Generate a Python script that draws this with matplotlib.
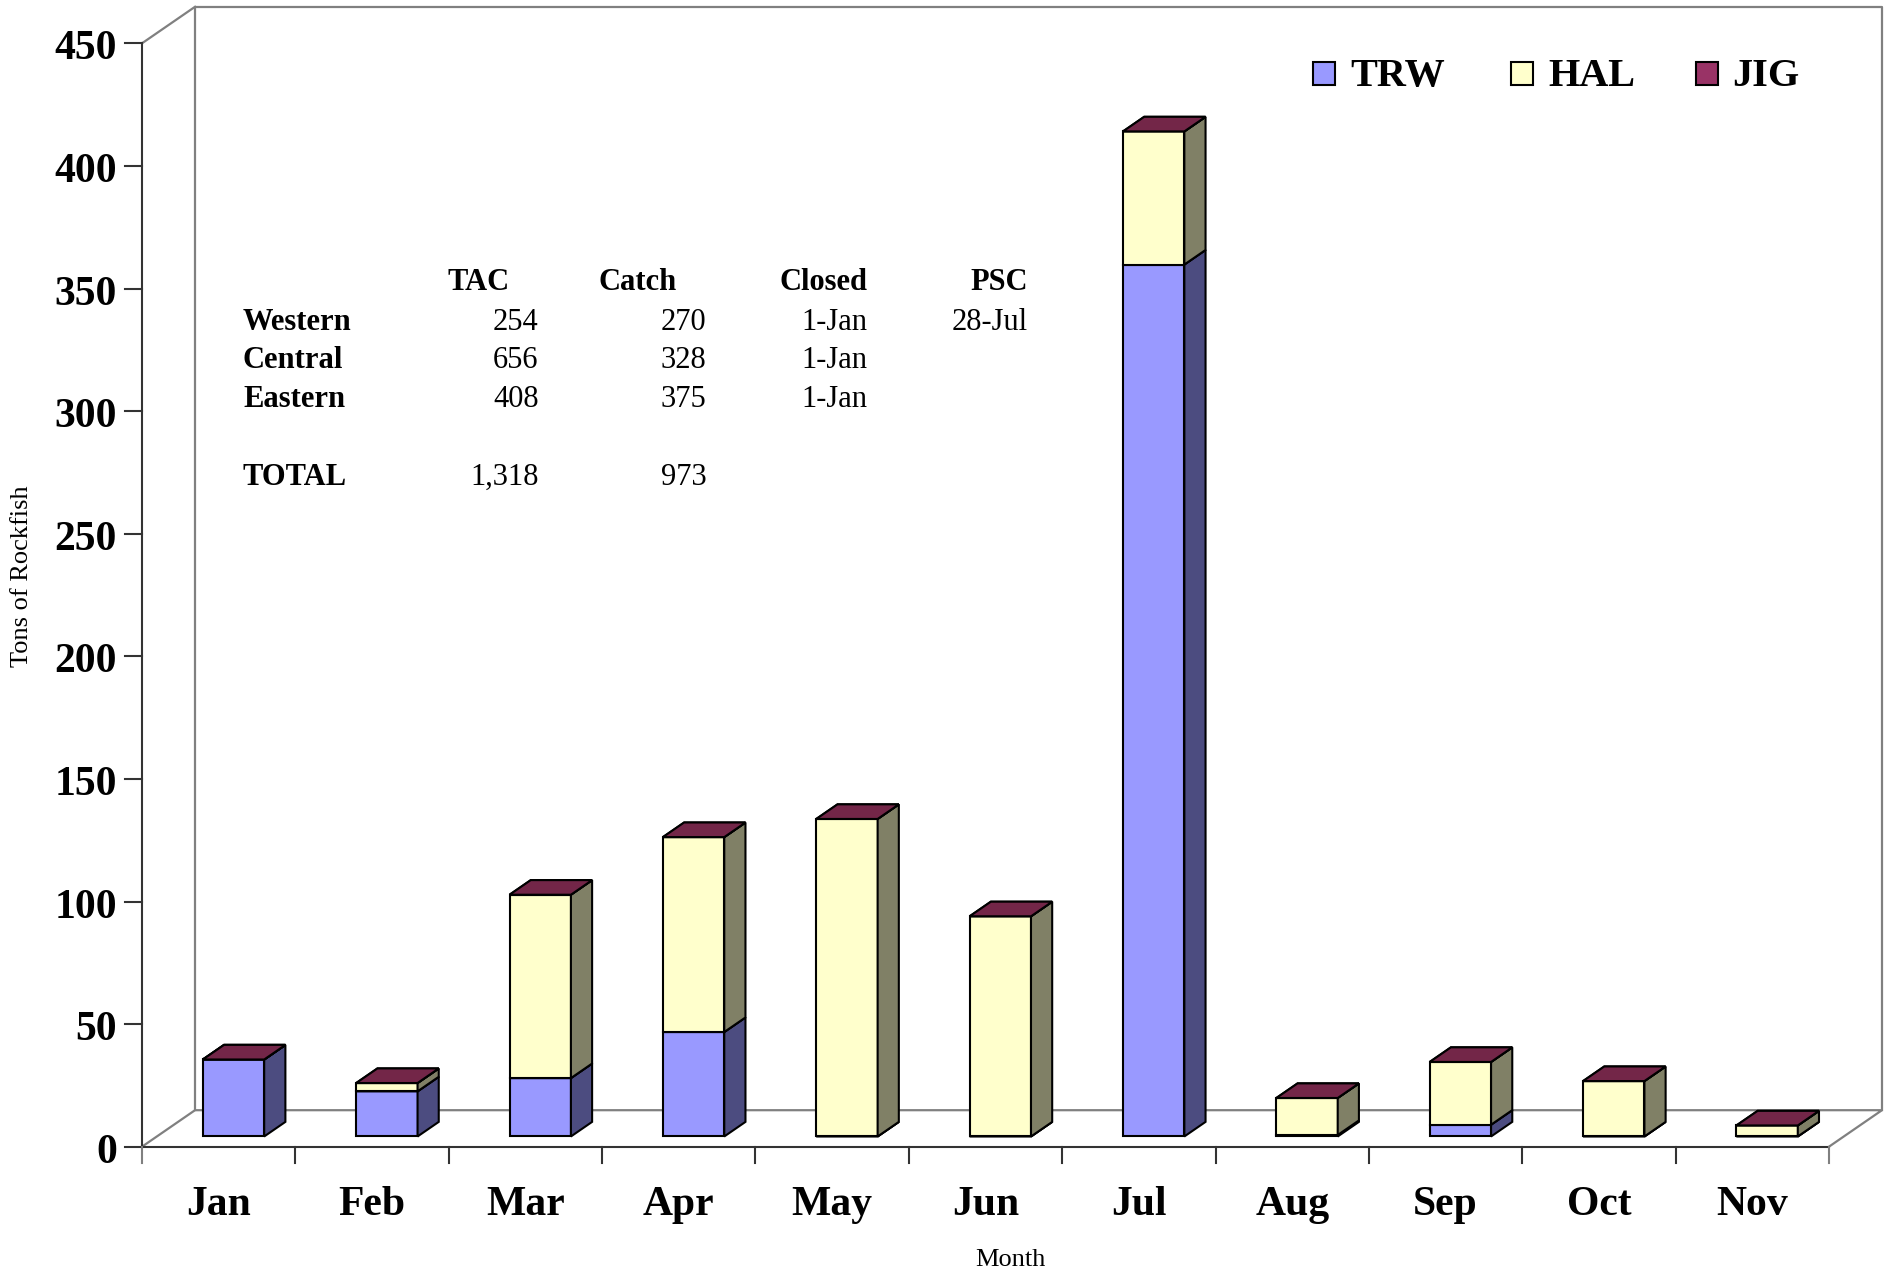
import matplotlib
matplotlib.use("Agg")
import matplotlib.pyplot as plt
from matplotlib.patches import Polygon, Rectangle

# ---- data -------------------------------------------------------------
months = ["Jan", "Feb", "Mar", "Apr", "May", "Jun", "Jul", "Aug", "Sep", "Oct", "Nov"]
trw = [31.4, 18.4, 23.8, 42.6, 0.0, 0.0, 355.6, 0.6, 4.8, 0.0, 0.0]
hal = [0.0, 3.4, 74.8, 79.5, 129.5, 89.8, 54.3, 15.1, 25.6, 22.6, 4.5]
jig = [0.0, 0.0, 0.0, 0.0, 0.0, 0.0, 0.0, 0.0, 0.0, 0.0, 0.0]
series_names = ["TRW", "HAL", "JIG"]
yticks = list(range(0, 451, 50))

table_cols = ["TAC", "Catch", "Closed", "PSC"]
table_rows = ["Western", "Central", "Eastern", "TOTAL"]
tac = ["254", "656", "408", "1,318"]
catch = ["270", "328", "375", "973"]
closed = ["1-Jan", "1-Jan", "1-Jan", ""]
psc = ["28-Jul", "", "", ""]

# ---- styling ----------------------------------------------------------
front_col = {"TRW": "#9999FF", "HAL": "#FFFFCC", "JIG": "#993366"}
side_col = {"TRW": "#4C4C80", "HAL": "#808066", "JIG": "#4D1A33"}
top_col = {"TRW": "#7373BF", "HAL": "#BFBF99", "JIG": "#732648"}
serif = ["Liberation Serif", "DejaVu Serif"]

W, H = 1886, 1271
fig = plt.figure(figsize=(W / 100, H / 100), dpi=100)
ax = fig.add_axes([0, 0, 1, 1])
ax.set_axis_off()

# pixel geometry of the oblique projection
x0_px, y0_px = 142.0, 124.3
px_cat, px_ton = 153.36, 2.452
ax.set_xlim(-x0_px / px_cat, (W - x0_px) / px_cat)
ax.set_ylim(-y0_px / px_ton, (H - y0_px) / px_ton)
DX, DY = 53.0 / px_cat, 36.5 / px_ton          # full floor depth
ymax = yticks[-1]
ncat = len(months)

# back wall & floor
gray = "#808080"
dark = "#333333"
ax.plot([DX, DX, ncat + DX, ncat + DX], [DY, ymax + DY, ymax + DY, DY], color=gray, lw=1.6, zorder=1)
ax.plot([0, DX, ncat + DX, ncat], [0, DY, DY, 0], color=gray, lw=1.6, zorder=1)
ax.plot([0, DX], [ymax, ymax + DY], color=gray, lw=1.6, zorder=1)
ax.plot([0, 0], [0, ymax], color=dark, lw=1.5, zorder=2)
ax.plot([0, ncat], [0, 0], color=dark, lw=1.5, zorder=2)

# value axis ticks and labels
for v in yticks:
    ax.plot([-17 / px_cat, 0], [v, v], color=dark, lw=1.5, zorder=2)
    ax.text(-25 / px_cat, v - 2.5, str(v), ha="right", va="center",
            family=serif, fontweight="bold", fontsize=30)

# category ticks and labels
for i in range(ncat + 1):
    ax.plot([i, i], [0, -16.6 / px_ton], color=gray if i in (0, ncat) else dark, lw=1.5, zorder=2)
for i, m in enumerate(months):
    ax.text(i + 0.5, -23.7, m, ha="center", va="center",
            family=serif, fontweight="bold", fontsize=30)

# stacked 3-D bars
f0, f1 = 0.28, 0.68
bw = 0.4


def draw_box(xl, yb, yt, name, z):
    xr = xl + bw
    ax0, ay0 = f0 * DX, f0 * DY
    ax1, ay1 = f1 * DX, f1 * DY
    front = [(xl + ax0, yb + ay0), (xr + ax0, yb + ay0), (xr + ax0, yt + ay0), (xl + ax0, yt + ay0)]
    side = [(xr + ax0, yb + ay0), (xr + ax1, yb + ay1), (xr + ax1, yt + ay1), (xr + ax0, yt + ay0)]
    top = [(xl + ax0, yt + ay0), (xr + ax0, yt + ay0), (xr + ax1, yt + ay1), (xl + ax1, yt + ay1)]
    for poly, col in ((front, front_col[name]), (side, side_col[name]), (top, top_col[name])):
        ax.add_patch(Polygon(poly, closed=True, facecolor=col, edgecolor="black",
                             lw=1.5, joinstyle="miter", zorder=z))


z = 5
for i in range(ncat):
    base = 0.0
    for name, vals in zip(series_names, (trw, hal, jig)):
        draw_box(i + 0.3, base, base + vals[i], name, z)
        base += vals[i]
        z += 1

# axis titles
fig.text(21.6 / W, 1 - 576 / H, "Tons of Rockfish", rotation=90, ha="center", va="center",
         family=serif, fontsize=19)
fig.text(1010 / W, 1 - 1260 / H, "Month", ha="center", va="center", family=serif, fontsize=19)

# legend
leg_sq = [1313, 1511, 1696]
leg_tx = [1350, 1548, 1732]
for name, sx, tx in zip(series_names, leg_sq, leg_tx):
    fig.patches.append(Rectangle((sx / W, 1 - 84.5 / H), 22 / W, 22 / H, transform=fig.transFigure,
                                 facecolor=front_col[name], edgecolor="black", lw=1.5))
    fig.text(tx / W, 1 - 86 / H, name, ha="left", va="baseline",
             family=serif, fontweight="bold", fontsize=29)

# summary table
col_right = [510, 677, 867.7, 1027.6]
val_right = [538.7, 706.7, 867.7, 1027.6]
row_base = [330.0, 368.5, 407.0, 485.0]
for c, xr in zip(table_cols, col_right):
    fig.text(xr / W, 1 - 289.8 / H, c, ha="right", va="baseline",
             family=serif, fontweight="bold", fontsize=22)
for r, yb, a, b, c, d in zip(table_rows, row_base, tac, catch, closed, psc):
    fig.text(243 / W, 1 - yb / H, r, ha="left", va="baseline",
             family=serif, fontweight="bold", fontsize=22)
    for s, xr in zip((a, b, c, d), val_right):
        if s:
            fig.text(xr / W, 1 - yb / H, s, ha="right", va="baseline", family=serif, fontsize=22)

fig.savefig("out.png", dpi=100, facecolor="white")
